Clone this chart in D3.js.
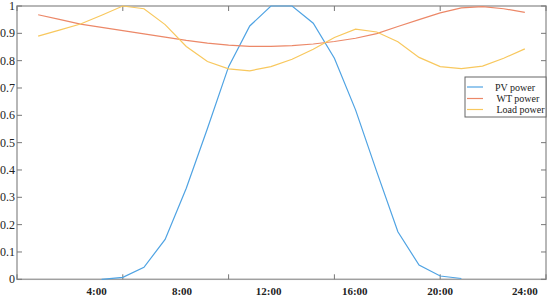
<!DOCTYPE html>
<html><head><meta charset="utf-8">
<script src="https://cdn.jsdelivr.net/npm/d3@7"></script>
<style>body{margin:0;background:#fff}svg{display:block}</style>
</head><body>
<script>
const hours = d3.range(1, 25);
const pvPower = [null,null,null,0,0.007,0.044,0.146,0.333,0.552,0.778,0.927,1.0,1.0,0.937,0.809,0.62,0.394,0.174,0.052,0.012,0.003,null,null,null];
const wtPower = [0.968,0.951,0.934,0.922,0.910,0.898,0.886,0.874,0.864,0.857,0.852,0.852,0.855,0.861,0.870,0.882,0.899,0.925,0.950,0.975,0.993,0.998,0.990,0.977];
const loadPower = [0.890,0.912,0.934,0.966,1.0,0.990,0.932,0.852,0.797,0.770,0.763,0.778,0.805,0.842,0.885,0.915,0.905,0.869,0.812,0.778,0.771,0.780,0.809,0.843];
const xTickLabels = ["4:00","8:00","12:00","16:00","20:00","24:00"];
const xTickLabelPos = [3.76,7.8,11.89,15.96,20.0,24.0];
const xTicks = [0,5,10,15,20,25];
const yTicks = [0,0.1,0.2,0.3,0.4,0.5,0.6,0.7,0.8,0.9,1];
const seriesNames = ["PV power","WT power","Load power"];
const colors = ["#4fa3e3","#ec8868","#f8c85e"];

const W=550,H=299, L=17, R=546, T=6, B=279.3;
const svg = d3.select("body").append("svg").attr("width",W).attr("height",H);
const x = d3.scaleLinear().domain([0,25]).range([L,R]);
const y = d3.scaleLinear().domain([0,1]).range([B,T]);
const font = "Liberation Serif, Times New Roman, serif";

const axisColor="#a0a0a0";
svg.append("rect").attr("x",L).attr("y",T).attr("width",R-L).attr("height",B-T)
  .attr("fill","none").attr("stroke",axisColor).attr("stroke-width",1.5);

const g = svg.append("g");
xTicks.forEach(t=>{
  g.append("line").attr("x1",x(t)).attr("x2",x(t)).attr("y1",B).attr("y2",B-5).attr("stroke","#777").attr("stroke-width",1);
  g.append("line").attr("x1",x(t)).attr("x2",x(t)).attr("y1",T).attr("y2",T+5).attr("stroke","#777").attr("stroke-width",1);
});
yTicks.forEach(t=>{
  g.append("line").attr("x1",L).attr("x2",L+5).attr("y1",y(t)).attr("y2",y(t)).attr("stroke","#777");
  g.append("line").attr("x1",R).attr("x2",R-5).attr("y1",y(t)).attr("y2",y(t)).attr("stroke","#777");
  g.append("text").attr("x",L-2).attr("y",y(t)+4).attr("text-anchor","end")
    .attr("font-family",font).attr("font-size",12).attr("fill","#222")
    .text(d3.format("~g")(t));
});
xTickLabels.forEach((lab,i)=>{
  g.append("text").attr("x",x(xTickLabelPos[i])).attr("y",295).attr("text-anchor","middle")
    .attr("font-family",font).attr("font-size",11).attr("font-weight","bold").attr("fill","#222")
    .text(lab);
});

const line = d3.line().defined(d=>d[1]!=null).x(d=>x(d[0])).y(d=>y(d[1]));
[pvPower,wtPower,loadPower].forEach((s,i)=>{
  svg.append("path").datum(hours.map((h,j)=>[h,s[j]]))
    .attr("d",line).attr("fill","none").attr("stroke",colors[i]).attr("stroke-width",1.2);
});

const lg = svg.append("g");
lg.append("rect").attr("x",465).attr("y",77).attr("width",81).attr("height",40)
  .attr("fill","#fff").attr("stroke","#666").attr("stroke-width",1);
const ly=[87,98.5,109.5];
seriesNames.forEach((n,i)=>{
  lg.append("line").attr("x1",467).attr("x2",483).attr("y1",ly[i]).attr("y2",ly[i]).attr("stroke",colors[i]).attr("stroke-width",1.2);
  lg.append("text").attr("x",i==0?495:496.5).attr("y",ly[i]+3.5).attr("font-family",font)
    .attr("font-size",10).attr("fill","#222").text(n);
});
</script>
</body></html>
